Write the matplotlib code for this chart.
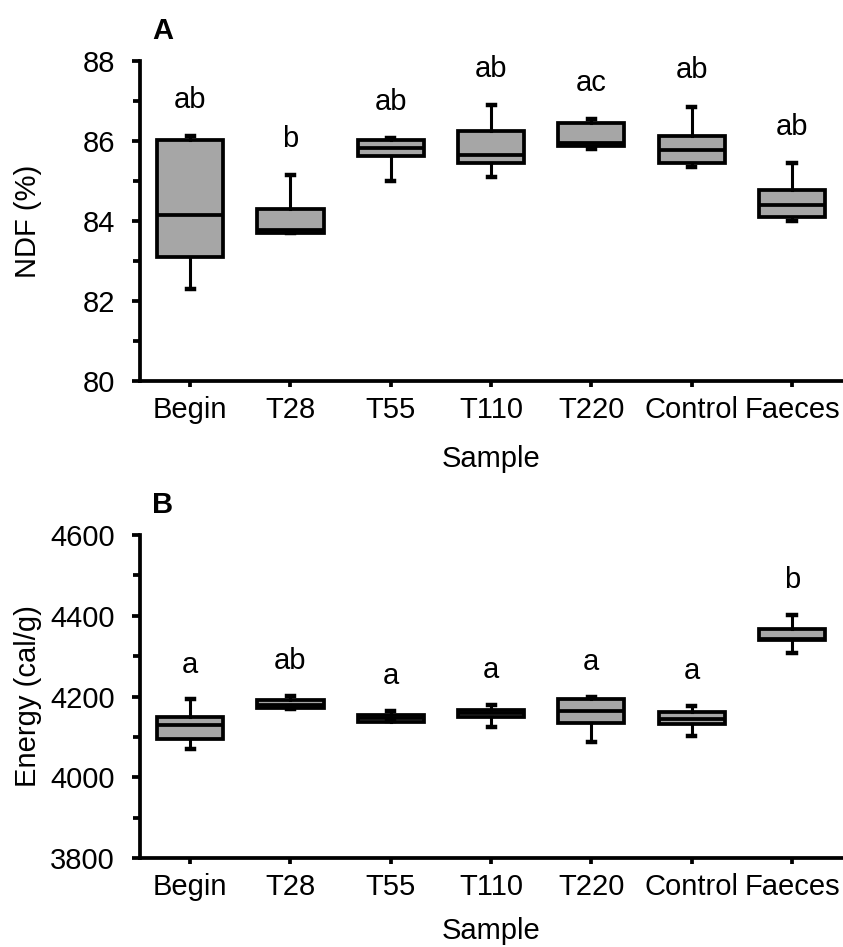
import numpy as np
import matplotlib
matplotlib.use('Agg')
import matplotlib.pyplot as plt
from matplotlib.ticker import MultipleLocator

plt.rcParams['font.family'] = ['Liberation Sans', 'DejaVu Sans']

samples = ['Begin', 'T28', 'T55', 'T110', 'T220', 'Control', 'Faeces']

# NDF (%) box summaries
ndf_whislo = [82.30, 83.70, 85.00, 85.10, 85.79, 85.36, 84.00]
ndf_q1 = [83.11, 83.70, 85.62, 85.45, 85.88, 85.45, 84.10]
ndf_med = [84.15, 83.78, 85.82, 85.65, 85.96, 85.77, 84.40]
ndf_q3 = [86.02, 84.30, 86.02, 86.25, 86.46, 86.12, 84.77]
ndf_whishi = [86.12, 85.15, 86.08, 86.90, 86.55, 86.86, 85.45]
ndf_letters = ['ab', 'b', 'ab', 'ab', 'ac', 'ab', 'ab']

# Energy (cal/g) box summaries
en_whislo = [4070, 4170, 4140, 4124, 4088, 4102, 4309]
en_q1 = [4095, 4172, 4138, 4149, 4134, 4132, 4339]
en_med = [4130, 4180, 4147, 4158, 4165, 4144, 4343]
en_q3 = [4149, 4191, 4155, 4167, 4194, 4161, 4367]
en_whishi = [4193, 4201, 4165, 4180, 4199, 4176, 4402]
en_letters = ['a', 'ab', 'a', 'a', 'a', 'a', 'b']

FS = 21
LW = 2.7


def draw_panel(ax, lo, q1, med, q3, hi, letters, ylim, major, minor, ylabel,
               letter_off, tag, xpad):
    stats = []
    for i in range(len(samples)):
        stats.append(dict(whislo=lo[i], q1=q1[i], med=med[i], q3=q3[i],
                          whishi=hi[i], label=samples[i]))
    ax.bxp(stats, positions=range(len(samples)), widths=0.66, patch_artist=True,
           showfliers=False, capwidths=0.07,
           boxprops=dict(facecolor='#a6a6a6', edgecolor='black', linewidth=LW),
           medianprops=dict(color='black', linewidth=LW),
           whiskerprops=dict(color='black', linewidth=2.2),
           capprops=dict(color='black', linewidth=3.2))
    # significance letters above upper whiskers
    for i, let in enumerate(letters):
        ax.text(i, hi[i] + letter_off, let, ha='center', va='center', fontsize=FS)
    ax.set_xlim(-0.5, 6.5)
    ax.set_ylim(*ylim)
    ax.yaxis.set_major_locator(MultipleLocator(major))
    ax.yaxis.set_minor_locator(MultipleLocator(minor))
    ax.set_xticks(range(len(samples)))
    ax.set_xticklabels(samples)
    for s in ['top', 'right']:
        ax.spines[s].set_visible(False)
    for s in ['left', 'bottom']:
        ax.spines[s].set_linewidth(LW)
    ax.tick_params(axis='both', which='major', labelsize=FS, width=LW, length=6,
                   direction='out')
    ax.tick_params(axis='y', which='minor', width=LW, length=5, direction='out')
    ax.tick_params(axis='x', which='major', length=4, pad=7)
    ax.tick_params(axis='y', which='major', pad=12)
    ax.set_xlabel('Sample', fontsize=FS, labelpad=xpad)
    ax.set_ylabel(ylabel, fontsize=FS)
    ax.yaxis.set_label_coords(-0.14, 0.5)
    ax.text(0.017, 1.05, tag, transform=ax.transAxes, fontsize=FS,
            fontweight='bold', ha='left', va='bottom')


fig = plt.figure(figsize=(8.43, 9.47), dpi=100)
ax1 = fig.add_axes([0.166, 0.5977, 0.833, 0.338])
ax2 = fig.add_axes([0.166, 0.094, 0.833, 0.341])

draw_panel(ax1, ndf_whislo, ndf_q1, ndf_med, ndf_q3, ndf_whishi, ndf_letters,
           (80, 88), 2, 1, 'NDF (%)', 0.9, 'A', 15)
draw_panel(ax2, en_whislo, en_q1, en_med, en_q3, en_whishi, en_letters,
           (3800, 4600), 200, 100, 'Energy (cal/g)', 86, 'B', 11)

fig.savefig('out.png', dpi=100)
